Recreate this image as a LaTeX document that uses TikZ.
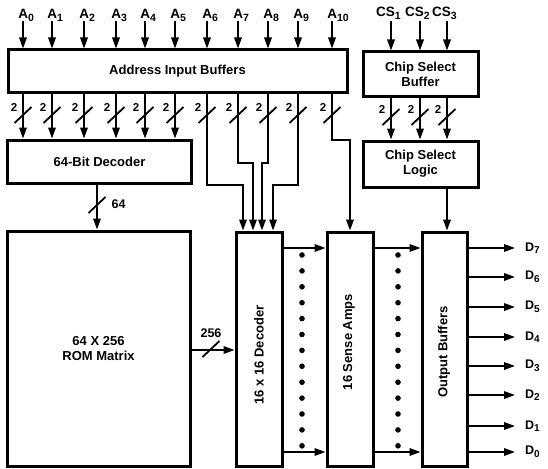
\documentclass[tikz,border=0pt]{standalone}
\usepackage{fontspec}
\setmainfont{Liberation Sans}
\usetikzlibrary{arrows.meta}
\newcommand{\lsub}[1]{\raisebox{-2.8pt}{\fontsize{10.5}{11}\selectfont #1}}
\newcommand{\dsub}[1]{\raisebox{-2.6pt}{\fontsize{10}{10}\selectfont #1}}
\begin{document}
\begin{tikzpicture}[x=1pt,y=-1pt,
  box/.style={draw, line width=3pt, inner sep=0pt, align=center,
    font=\bfseries\fontsize{13}{15}\selectfont},
  boxtext/.style={inner sep=0pt, font=\bfseries\fontsize{13}{15}\selectfont, rotate=90},
  wire/.style={line width=1.8pt},
  arr/.style={wire, -{Triangle[length=11pt,width=7.5pt]}},
  lbl/.style={inner sep=0pt, font=\bfseries\fontsize{13.5}{15}\selectfont},
  dlbl/.style={inner sep=0pt, anchor=west, font=\bfseries\fontsize{12.5}{13}\selectfont},
  num/.style={inner sep=0pt, font=\bfseries\fontsize{11.5}{12}\selectfont},
  busmark/.pic={\draw[line width=1.8pt] (-8.5,8) -- (8.5,-8);},
  dot/.style={fill=black}
]
\useasboundingbox (0,0) rectangle (548,468);

% boxes
\node[box, minimum width=339pt, minimum height=43pt] (aib) at (177.5,71.5) {Address Input Buffers};
\node[box, minimum width=184pt, minimum height=43pt] (dec64) at (99.5,161.5) {64-Bit Decoder};
\node[box, minimum width=183pt, minimum height=235pt] (rom) at (98.5,348.5) {64 X 256\\ROM Matrix};
\node[box, minimum width=46pt, minimum height=234pt] (dec16) at (259,349) {};
\node[boxtext] (dec16t) at (259,355) {16 x 16 Decoder};
\node[box, minimum width=46pt, minimum height=234pt] (sense) at (350,349) {};
\node[boxtext] (senset) at (349,342) {16 Sense Amps};
\node[box, minimum width=45pt, minimum height=234pt] (outb) at (444.5,349) {};
\node[boxtext] (outbt) at (444,352) {Output Buffers};
\node[box, minimum width=115pt, minimum height=45pt] (csb) at (420.5,74.5) {Chip Select\\Buffer};
\node[box, minimum width=115pt, minimum height=46pt] (csl) at (420.5,164) {Chip Select\\Logic};

% address inputs and buffer outputs
\foreach \i/\x in {0/23,1/52,2/84,3/116,4/145,5/175,6/207,7/238,8/268,9/298,10/332} {
  \node[lbl, anchor=base west] (a\i) at (\x-4.8,18.5) {A\lsub{\i}};
  \coordinate (ia\i) at (\x,21);
  \draw[arr] (ia\i) -- (ia\i |- aib.north);
  \pic at (\x,115) {busmark};
  \node[num] (n\i) at (\x-9,107) {2};
}
\foreach \i in {0,...,5} {
  \draw[arr] (ia\i |- aib.south) -- (ia\i |- dec64.north);
}
\coordinate (k6) at (243,185);
\coordinate (k7) at (253,163);
\coordinate (k8) at (262,163);
\coordinate (k9) at (273,185);
\coordinate (k10) at (350,140);
\foreach \i in {6,...,9} {
  \draw[arr] (ia\i |- aib.south) |- (k\i) -- (k\i |- dec16.north);
}
\draw[arr] (ia10 |- aib.south) |- (k10) -- (k10 |- sense.north);

% chip select
\foreach \i/\x in {1/391,2/420,3/447} {
  \node[lbl] (cs\i) at (\x-2.5,13.5) {CS\lsub{\i}};
  \coordinate (ic\i) at (\x,21);
  \draw[arr] (ic\i) -- (ic\i |- csb.north);
  \draw[arr] (ic\i |- csb.south) -- (ic\i |- csl.north);
  \pic at (\x,117) {busmark};
  \node[num] (m\i) at (\x-9,109) {2};
}
\draw[arr] (ic3 |- csl.south) -- (ic3 |- outb.north);

% 64-bit decoder to ROM
\coordinate (c64) at (97,0);
\draw[arr] (c64 |- dec64.south) -- (c64 |- rom.north);
\pic at (97,205) {busmark};
\node[num, font=\bfseries\fontsize{12.5}{13}\selectfont] (n64) at (118.5,204) {64};

% ROM to 16x16 decoder
\coordinate (c256) at (0,350);
\draw[arr] (rom.east |- c256) -- (dec16.west |- c256);
\pic at (211,349) {busmark};
\node[num, font=\bfseries\fontsize{12.5}{13}\selectfont] (n256) at (211,333) {256};

% decoder -> sense -> output
\foreach \y in {248,452} {
  \coordinate (r\y) at (0,\y);
  \draw[arr] (dec16.east |- r\y) -- (sense.west |- r\y);
  \draw[arr] (sense.east |- r\y) -- (outb.west |- r\y);
}
\foreach \k in {0,...,12} {
  \fill[dot] (302,255+\k*15.9) circle (2.8pt);
  \fill[dot] (398,255+\k*15.9) circle (2.8pt);
}

% outputs
\foreach \d/\y in {7/248,6/277,5/307,4/337,3/366,2/395,1/426,0/452} {
  \coordinate (e\d) at (515,\y);
  \draw[arr] (outb.east |- e\d) -- (e\d);
  \node[dlbl] (d\d) at (525,\y) {D\dsub{\d}};
}
\end{tikzpicture}
\end{document}
